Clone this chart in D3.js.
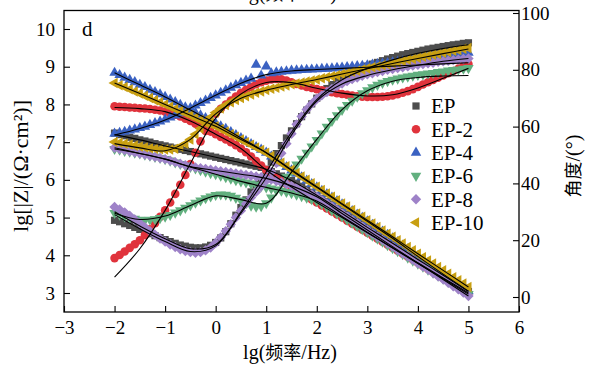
<!DOCTYPE html>
<html>
<head>
<meta charset="utf-8">
<script src="https://cdn.jsdelivr.net/npm/d3@7"></script>
<style>
body { margin: 0; background: #fff; }
svg text { font-family: "Liberation Serif", "Times New Roman", Times, serif; }
svg tspan.cjk { font-family: "Noto Sans CJK SC", sans-serif; font-size: 18px; }
</style>
</head>
<body>
<div id="canvas"></div>
<script>
var w = 593;
var h = 367;
var plotTop = 10.5;
var plotBottom = 312;

// lg(f/Hz), 10 points per decade
var freq = [-2,-1.9,-1.8,-1.7,-1.6,-1.5,-1.4,-1.3,-1.2,-1.1,
  -1,-0.9,-0.8,-0.7,-0.6,-0.5,-0.4,-0.3,-0.2,-0.1,
  0,0.1,0.2,0.3,0.4,0.5,0.6,0.7,0.8,0.9,
  1,1.1,1.2,1.3,1.4,1.5,1.6,1.7,1.8,1.9,
  2,2.1,2.2,2.3,2.4,2.5,2.6,2.7,2.8,2.9,
  3,3.1,3.2,3.3,3.4,3.5,3.6,3.7,3.8,3.9,
  4,4.1,4.2,4.3,4.4,4.5,4.6,4.7,4.8,4.9,
  5];

// lg|Z|
var zEP = [7.24,7.20,7.17,7.13,7.10,7.06,7.03,7.00,6.96,6.93,
  6.90,6.87,6.84,6.81,6.78,6.75,6.72,6.69,6.66,6.63,
  6.60,6.57,6.54,6.51,6.48,6.45,6.42,6.39,6.36,6.33,
  6.28,6.22,6.16,6.10,6.04,5.98,5.91,5.83,5.75,5.67,
  5.59,5.51,5.42,5.34,5.25,5.17,5.08,5.00,4.91,4.83,
  4.74,4.66,4.57,4.49,4.40,4.32,4.23,4.15,4.06,3.98,
  3.89,3.81,3.72,3.64,3.55,3.47,3.38,3.30,3.21,3.13,
  3.04];
var zEP2 = [7.95,7.94,7.93,7.92,7.91,7.90,7.89,7.88,7.86,7.84,
  7.81,7.77,7.73,7.68,7.62,7.56,7.49,7.42,7.35,7.28,
  7.21,7.14,7.07,7.00,6.92,6.83,6.73,6.62,6.50,6.38,
  6.26,6.16,6.06,5.97,5.89,5.81,5.73,5.65,5.56,5.48,
  5.40,5.32,5.24,5.16,5.08,5.00,4.92,4.84,4.76,4.68,
  4.60,4.52,4.44,4.36,4.28,4.20,4.12,4.04,3.96,3.88,
  3.80,3.72,3.64,3.56,3.48,3.40,3.32,3.24,3.16,3.08,
  3.00];
var zEP4 = [8.84,8.78,8.71,8.65,8.59,8.52,8.46,8.39,8.33,8.27,
  8.20,8.13,8.06,7.99,7.92,7.85,7.78,7.71,7.64,7.57,
  7.50,7.42,7.35,7.27,7.19,7.11,7.03,6.95,6.87,6.80,
  6.72,6.62,6.53,6.44,6.34,6.25,6.16,6.07,5.98,5.89,
  5.80,5.71,5.62,5.53,5.44,5.35,5.26,5.17,5.08,4.99,
  4.90,4.81,4.72,4.63,4.54,4.45,4.35,4.26,4.16,4.07,
  3.97,3.88,3.78,3.69,3.59,3.50,3.41,3.32,3.23,3.14,
  3.05];
var zEP6 = [6.82,6.80,6.77,6.75,6.72,6.70,6.67,6.64,6.61,6.58,
  6.55,6.51,6.46,6.42,6.38,6.34,6.30,6.26,6.22,6.18,
  6.15,6.11,6.07,6.03,5.99,5.96,5.93,5.90,5.87,5.83,
  5.80,5.77,5.74,5.71,5.68,5.65,5.61,5.57,5.53,5.49,
  5.44,5.36,5.28,5.19,5.11,5.03,4.94,4.86,4.77,4.69,
  4.61,4.52,4.44,4.36,4.27,4.19,4.11,4.03,3.94,3.86,
  3.78,3.70,3.62,3.54,3.46,3.38,3.30,3.21,3.13,3.05,
  2.97];
var zEP8 = [6.85,6.82,6.79,6.76,6.73,6.70,6.67,6.64,6.61,6.58,
  6.55,6.51,6.47,6.43,6.39,6.35,6.33,6.31,6.29,6.27,
  6.25,6.23,6.21,6.19,6.17,6.15,6.13,6.11,6.09,6.07,
  6.04,6.01,5.97,5.93,5.89,5.84,5.79,5.73,5.67,5.61,
  5.55,5.46,5.37,5.29,5.20,5.11,5.02,4.93,4.85,4.76,
  4.67,4.58,4.49,4.41,4.32,4.23,4.14,4.05,3.97,3.88,
  3.79,3.70,3.62,3.53,3.44,3.36,3.27,3.18,3.10,3.01,
  2.92];
var zEP10 = [8.57,8.51,8.46,8.40,8.34,8.29,8.23,8.17,8.11,8.06,
  8.00,7.94,7.88,7.83,7.77,7.71,7.65,7.59,7.54,7.48,
  7.42,7.35,7.28,7.21,7.14,7.07,7.00,6.93,6.86,6.79,
  6.72,6.63,6.54,6.45,6.36,6.27,6.18,6.09,6.00,5.91,
  5.82,5.73,5.64,5.55,5.46,5.37,5.29,5.20,5.11,5.02,
  4.93,4.84,4.75,4.66,4.57,4.49,4.40,4.31,4.22,4.13,
  4.04,3.95,3.86,3.78,3.69,3.60,3.51,3.42,3.34,3.25,
  3.16];

// phase angle (deg)
var phEP = [27.0,26.5,25.8,25.2,24.5,23.8,23.0,22.3,21.6,20.9,
  20.2,19.5,18.9,18.3,17.9,17.5,17.3,17.3,17.6,18.2,
  19.2,20.8,23.0,25.8,28.8,31.5,34.2,37.0,39.6,42.0,
  44.5,47.5,50.5,53.3,56.0,58.5,61.0,63.5,65.8,68.0,
  70.0,71.8,73.4,74.8,76.0,77.1,78.1,79.0,79.8,80.6,
  81.3,82.0,82.6,83.2,83.8,84.3,84.8,85.3,85.7,86.1,
  86.5,86.9,87.3,87.6,87.9,88.2,88.5,88.8,89.0,89.3,
  89.5];
var phEP2 = [13.7,14.8,16.0,17.3,18.6,20.0,21.8,23.8,26.0,28.2,
  30.5,33.3,36.3,39.5,43.0,46.8,50.8,54.8,58.5,61.8,
  64.5,66.3,67.8,69.2,70.6,71.9,73.0,74.0,74.9,75.6,
  76.2,76.6,76.8,76.7,76.2,75.6,75.0,74.5,74.0,73.6,
  73.2,72.8,72.5,72.1,71.8,71.5,71.2,70.9,70.7,70.5,
  70.4,70.4,70.4,70.5,70.7,71.0,71.4,71.9,72.5,73.2,
  74.0,74.8,75.6,76.4,77.2,78.0,78.8,79.6,80.4,81.2,
  82.0];
var phEP4 = [57.5,57.8,58.2,58.6,59.0,59.5,60.0,60.6,61.2,61.8,
  62.5,63.2,63.9,64.7,65.6,66.5,67.4,68.3,69.2,70.1,
  71.0,71.9,72.8,73.7,74.6,75.4,76.2,76.9,81.8,78.0,
  81.2,78.8,79.1,79.3,79.5,79.7,79.8,79.9,80.0,80.1,
  80.2,80.3,80.4,80.5,80.7,80.8,81.0,81.1,81.3,81.4,
  81.6,81.8,82.0,82.2,82.4,82.6,82.8,83.0,83.2,83.4,
  83.6,83.8,84.0,84.2,84.4,84.7,84.9,85.1,85.4,85.7,
  86.0];
var phEP6 = [29.6,29.0,28.4,27.9,27.5,27.2,27.1,27.2,27.4,27.8,
  28.3,28.9,29.7,30.5,31.4,32.3,33.2,34.0,34.8,35.4,
  35.9,36.1,36.0,35.6,34.9,34.0,33.0,32.2,31.8,32.0,
  33.0,35.0,37.6,40.0,42.3,44.5,46.6,48.7,50.8,53.0,
  55.3,57.6,59.9,62.0,64.0,65.9,67.6,69.1,70.5,71.7,
  72.8,73.8,74.7,75.4,76.0,76.5,76.9,77.3,77.6,77.9,
  78.2,78.4,78.7,78.9,79.2,79.4,79.7,79.9,80.1,80.4,
  80.6];
var phEP8 = [31.7,30.8,29.8,28.6,27.3,26.0,24.6,23.2,21.9,20.6,
  19.5,18.5,17.6,16.8,16.2,15.8,15.6,15.8,16.4,17.4,
  19.0,21.0,23.2,25.6,28.0,30.4,32.8,35.0,37.0,39.0,
  41.0,44.0,47.2,50.6,54.0,57.5,60.8,63.6,66.0,68.0,
  69.7,71.0,72.2,73.3,74.3,75.2,76.0,76.7,77.3,77.9,
  78.4,78.8,79.2,79.6,80.0,80.3,80.6,80.9,81.2,81.5,
  81.8,82.0,82.3,82.5,82.8,83.0,83.2,83.4,83.6,83.8,
  84.0];
var phEP10 = [54.6,54.3,54.0,53.7,53.3,53.0,52.7,52.4,52.2,52.0,
  51.9,51.9,52.2,52.9,54.0,55.5,57.3,59.3,61.3,63.3,
  65.0,66.4,67.6,68.6,69.4,70.1,70.7,71.3,71.9,72.4,
  72.9,73.3,73.7,74.1,74.5,74.9,75.2,75.5,75.9,76.2,
  76.6,77.0,77.4,77.7,78.1,78.5,78.9,79.3,79.7,80.1,
  80.5,80.9,81.2,81.6,81.9,82.3,82.7,83.1,83.5,83.8,
  84.2,84.6,84.9,85.3,85.6,86.0,86.3,86.7,87.0,87.4,
  87.7];

// fitted curves (equivalent circuit), every half decade
var fitFreq = [-2,-1.5,-1,-0.5,0,0.5,1,1.5,2,2.5,3,3.5,4,4.5,5];
var fitZEP = [7.20,7.06,6.90,6.75,6.60,6.45,6.28,5.98,5.59,5.17,4.74,4.32,3.89,3.47,3.04];
var fitZEP2 = [7.92,7.89,7.81,7.56,7.21,6.83,6.26,5.81,5.40,5.00,4.60,4.20,3.80,3.40,3.00];
var fitZEP4 = [8.84,8.52,8.20,7.85,7.50,7.11,6.72,6.25,5.80,5.35,4.90,4.45,3.97,3.50,3.05];
var fitZEP6 = [6.82,6.70,6.55,6.34,6.15,5.96,5.80,5.65,5.44,5.03,4.61,4.19,3.78,3.38,2.97];
var fitZEP8 = [6.85,6.70,6.55,6.35,6.25,6.15,6.04,5.84,5.55,5.11,4.67,4.23,3.79,3.36,2.92];
var fitZEP10 = [8.57,8.29,8.00,7.71,7.42,7.07,6.72,6.27,5.82,5.37,4.93,4.49,4.04,3.60,3.16];
var fitPhEP = [30,25,20.5,17,18.5,30,44,58,69.5,76.5,80.5,83.5,85.8,87.5,88.8];
var fitPhEP2 = [7,17,30.5,47,63,71.5,75.5,75.5,73.5,71.8,70.8,71.2,73.6,77,80.5];
var fitPhEP4 = [57,59.3,62.3,66.5,71,75.3,78.3,79.6,80.1,80.5,80.9,81.3,81.7,82.1,82.5];
var fitPhEP6 = [29.5,27.3,28.5,32.2,35.6,34.3,33.0,44,55.5,66,72.6,76,77.3,77.8,78];
var fitPhEP8 = [29,24,19.5,16,18,29.5,42,57,69,75,78,80,81.6,83,84];
var fitPhEP10 = [54,52.5,51.5,55.5,64.5,70,72.8,74.8,76.6,78.5,80.4,82.2,84,85.7,87.3];

var names = ["EP", "EP-2", "EP-4", "EP-6", "EP-8", "EP-10"];
var xTicks = [-3,-2,-1,0,1,2,3,4,5,6];
var yLeftTicks = [3,4,5,6,7,8,9,10];
var yRightTicks = [0,20,40,60,80,100];

var colors = ["#4d4d4d", "#e0333c", "#3b62c2", "#62b07f", "#9e82c8", "#c89f12"];
var shapes = ["square", "circle", "up", "down", "diamond", "left"];

var series = [
  {name: names[0], z: zEP, ph: phEP, fz: fitZEP, fph: fitPhEP},
  {name: names[1], z: zEP2, ph: phEP2, fz: fitZEP2, fph: fitPhEP2},
  {name: names[2], z: zEP4, ph: phEP4, fz: fitZEP4, fph: fitPhEP4},
  {name: names[3], z: zEP6, ph: phEP6, fz: fitZEP6, fph: fitPhEP6},
  {name: names[4], z: zEP8, ph: phEP8, fz: fitZEP8, fph: fitPhEP8},
  {name: names[5], z: zEP10, ph: phEP10, fz: fitZEP10, fph: fitPhEP10}
];

var canvas = d3.select("#canvas")
  .append("svg")
  .attr("width", w)
  .attr("height", h)
  .style("background-color", "white");

var xScale = d3.scaleLinear().domain([-3, 6]).range([64, 519]);
var yLeft = d3.scaleLinear().domain([3, 10]).range([293, 29]);
var yRight = d3.scaleLinear().domain([0, 100]).range([297, 13]);

function symbolPath(shape) {
  if (shape === "square") return d3.symbol(d3.symbolSquare, 52)();
  if (shape === "circle") return d3.symbol(d3.symbolCircle, 58)();
  if (shape === "diamond") return d3.symbol(d3.symbolSquare, 54)();
  return d3.symbol(d3.symbolTriangle, 48)();
}
var rotation = {square: 0, circle: 0, up: 0, down: 180, diamond: 45, left: -90};

// markers
series.forEach(function(s, k) {
  var g = canvas.append("g").attr("fill", colors[k]);
  var p = symbolPath(shapes[k]);
  g.selectAll("path.z")
    .data(freq)
    .join("path")
    .attr("class", "z")
    .attr("d", p)
    .attr("transform", function(f, i) {
      return "translate(" + xScale(f) + "," + yLeft(s.z[i]) + ") rotate(" + rotation[shapes[k]] + ")";
    });
  g.selectAll("path.p")
    .data(freq)
    .join("path")
    .attr("class", "p")
    .attr("d", p)
    .attr("transform", function(f, i) {
      return "translate(" + xScale(f) + "," + yRight(s.ph[i]) + ") rotate(" + rotation[shapes[k]] + ")";
    });
});

// fitted lines
var lineLeft = d3.line()
  .x(function(d, i) { return xScale(fitFreq[i]); })
  .y(function(d) { return yLeft(d); })
  .curve(d3.curveCatmullRom.alpha(0.5));
var lineRight = d3.line()
  .x(function(d, i) { return xScale(fitFreq[i]); })
  .y(function(d) { return yRight(d); })
  .curve(d3.curveCatmullRom.alpha(0.5));

series.forEach(function(s) {
  canvas.append("path").attr("d", lineLeft(s.fz))
    .attr("fill", "none").attr("stroke", "black").attr("stroke-width", 1.1);
  canvas.append("path").attr("d", lineRight(s.fph))
    .attr("fill", "none").attr("stroke", "black").attr("stroke-width", 1.1);
});

// frame
canvas.append("rect")
  .attr("x", xScale(-3))
  .attr("y", plotTop)
  .attr("width", xScale(6) - xScale(-3))
  .attr("height", plotBottom - plotTop)
  .attr("fill", "none")
  .attr("stroke", "black")
  .attr("stroke-width", 1.3);

var xAxis = d3.axisBottom(xScale).tickValues(xTicks)
  .tickSizeInner(-6).tickSizeOuter(0).tickPadding(9);
var gx = canvas.append("g")
  .attr("transform", "translate(0," + plotBottom + ")")
  .call(xAxis);

var yAxisL = d3.axisLeft(yLeft).tickValues(yLeftTicks)
  .tickFormat(d3.format("d"))
  .tickSizeInner(-6).tickSizeOuter(0).tickPadding(9);
var gyl = canvas.append("g")
  .attr("transform", "translate(" + xScale(-3) + ",0)")
  .call(yAxisL);

var yAxisR = d3.axisRight(yRight).tickValues(yRightTicks)
  .tickFormat(d3.format("d"))
  .tickSizeInner(-6).tickSizeOuter(0).tickPadding(2);
var gyr = canvas.append("g")
  .attr("transform", "translate(" + xScale(6) + ",0)")
  .call(yAxisR);

[gx, gyl, gyr].forEach(function(g) {
  g.select(".domain").remove();
  g.attr("font-family", null).attr("font-size", 19);
  g.selectAll("line").attr("stroke", "black").attr("stroke-width", 1.1);
  g.selectAll("text").attr("fill", "black");
});

// text with latin parts in serif and the Chinese part in a CJK font
function mixedText(sel, before, cjk, after) {
  sel.append("tspan").text(before);
  sel.append("tspan").attr("class", "cjk").text(cjk);
  sel.append("tspan").text(after);
}

// axis titles
var xTitle = canvas.append("text")
  .attr("x", 290)
  .attr("y", 359)
  .attr("text-anchor", "middle")
  .style("font-size", "20px");
mixedText(xTitle, "lg(", "频率", "/Hz)");

// title of the panel above, cut by the page edge as in the source figure
var topTitle = canvas.append("text")
  .attr("x", 290)
  .attr("y", 0)
  .attr("text-anchor", "middle")
  .style("font-size", "20px");
mixedText(topTitle, "lg(", "频率", "/Hz)");

canvas.append("text")
  .attr("transform", "translate(28,166) rotate(-90)")
  .attr("text-anchor", "middle")
  .style("font-size", "22px")
  .text("lg[|Z|/(Ω·cm²)]");

var rTitle = canvas.append("text")
  .attr("transform", "translate(580,166) rotate(-90)")
  .attr("text-anchor", "middle")
  .style("font-size", "20px");
mixedText(rTitle, "", "角度", "/(°)");

canvas.append("text")
  .attr("x", 82)
  .attr("y", 36)
  .style("font-size", "21px")
  .text("d");

// legend
var legend = canvas.append("g")
  .attr("transform", "translate(416,106)");

var legendItems = legend.selectAll("g")
  .data(names)
  .join("g")
  .attr("transform", function(d, i) { return "translate(0," + (i * 23.3) + ")"; });

legendItems.append("path")
  .attr("d", function(d, i) { return symbolPath(shapes[i]); })
  .attr("transform", function(d, i) { return "rotate(" + rotation[shapes[i]] + ")"; })
  .attr("fill", function(d, i) { return colors[i]; });

legendItems.append("text")
  .attr("x", 15)
  .attr("dy", "0.35em")
  .style("font-size", "21px")
  .text(function(d) { return d; });
</script>
</body>
</html>
